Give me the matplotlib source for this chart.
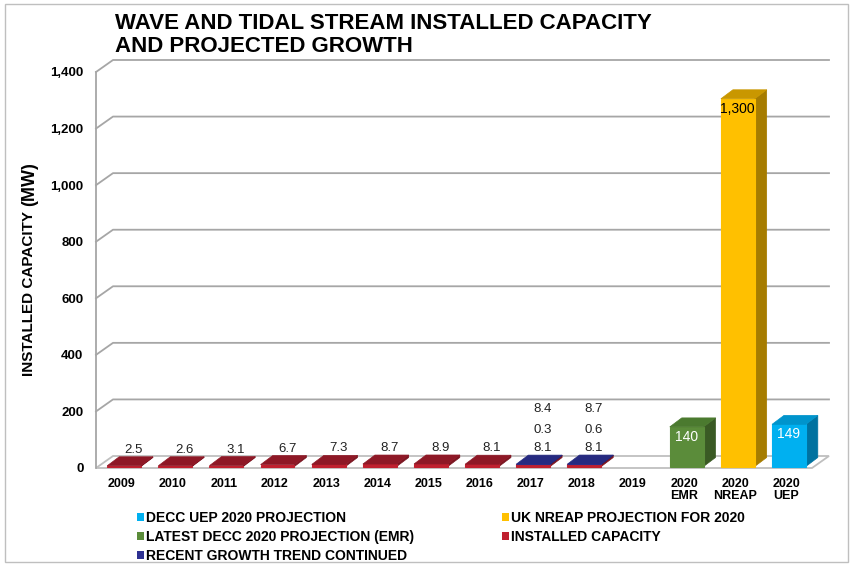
import matplotlib
matplotlib.use("Agg")
import matplotlib.pyplot as plt
from matplotlib.patches import Polygon, Rectangle, Patch

plt.rcParams["font.family"] = ["Liberation Sans", "DejaVu Sans"]

# ---- data ----
categories = ["2009", "2010", "2011", "2012", "2013", "2014", "2015", "2016",
              "2017", "2018", "2019", "2020\nEMR", "2020\nNREAP", "2020\nUEP"]
installed = [2.5, 2.6, 3.1, 6.7, 7.3, 8.7, 8.9, 8.1, 8.1, 8.1]   # 2009-2018
growth_years = ["2017", "2018"]
growth = [0.3, 0.6]                                               # trend continued
projection_names = ["2020\nEMR", "2020\nNREAP", "2020\nUEP"]
projection_values = [140, 1300, 149]
y_ticks = [0, 200, 400, 600, 800, 1000, 1200, 1400]

RED = ("#C0202F", "#7A1420", "#8E1826")      # front, side, top
NAVY = ("#2E3192", "#1E2066", "#262A80")
GREEN = ("#5B8C3A", "#3A5A24", "#4B7A2F")
YELLOW = ("#FFC000", "#A67C00", "#C99700")
BLUE = ("#00B0F0", "#0072A0", "#0094CC")
proj_colors = [GREEN, YELLOW, BLUE]
proj_text = ["white", "black", "white"]

W, H = 853, 566
fig = plt.figure(figsize=(W / 100, H / 100), dpi=100)
fig.patches.append(Rectangle((5 / W, 4 / H), (W - 10) / W, (H - 8) / H,
                             transform=fig.transFigure, fill=False,
                             edgecolor="#BFBFBF", linewidth=1.0))

left_px, right_px, bottom_px, top_px = 96, 812, 468, 72
ax = fig.add_axes([left_px / W, 1 - bottom_px / H,
                   (right_px - left_px) / W, (bottom_px - top_px) / H])
ax.set_xlim(-0.5, len(categories) - 0.5)
ax.set_ylim(0, 1400)
for sp in ax.spines.values():
    sp.set_visible(False)

# pixel -> data conversions for the fake depth
ux = len(categories) / (right_px - left_px)
uy = 1400 / (bottom_px - top_px)
gx, gy = 17 * ux, 12 * uy        # wall depth
bx, by = 12 * ux, 9 * uy         # bar depth
ox, oy = (gx - bx) / 2, (gy - by) / 2
hw = 0.33
x0, x1 = -0.5, len(categories) - 0.5

# floor, wall and gridlines
ax.add_patch(Polygon([(x0, 0), (x1, 0), (x1 + gx, gy), (x0 + gx, gy)],
                     closed=True, facecolor="white", edgecolor="#BFBFBF",
                     linewidth=1.3, clip_on=False, zorder=1))
ax.plot([x0, x0], [0, 1400], color="#A6A6A6", linewidth=1.3, clip_on=False, zorder=1)
for v in y_ticks[1:]:
    ax.plot([x0, x0 + gx, x1 + gx], [v, v + gy, v + gy], color="#A6A6A6",
            linewidth=1.3, clip_on=False, zorder=1)


def draw_box(xc, bottom, top, colors, with_top=True):
    front, side, topc = colors
    xl, xr = xc - hw + ox, xc + hw + ox
    b, t = bottom + oy, top + oy
    ax.add_patch(Polygon([(xr, b), (xr + bx, b + by), (xr + bx, t + by), (xr, t)],
                         closed=True, facecolor=side, edgecolor=side, linewidth=0.5,
                         zorder=3, clip_on=False))
    ax.add_patch(Polygon([(xl, b), (xr, b), (xr, t), (xl, t)], closed=True,
                         facecolor=front, edgecolor=front, linewidth=0.8,
                         zorder=3, clip_on=False))
    if with_top:
        ax.add_patch(Polygon([(xl, t), (xr, t), (xr + bx, t + by), (xl + bx, t + by)],
                             closed=True, facecolor=topc, edgecolor=topc,
                             linewidth=0.5, zorder=3, clip_on=False))


label_kw = dict(textcoords="offset pixels", ha="center", va="center",
                fontsize=9.5, color="#222222", zorder=5)

for i, val in enumerate(installed):
    year = categories[i]
    stacked = year in growth_years
    draw_box(i, 0, val, RED, with_top=not stacked)
    anchor = (i + ox + bx * 0.8, val + oy + by)
    ax.annotate(f"{val}", anchor, xytext=(0, 7), **label_kw)
    if stacked:
        g = growth[growth_years.index(year)]
        draw_box(i, val, val + g, NAVY)
        ax.annotate(f"{g}", anchor, xytext=(0, 25), **label_kw)
        ax.annotate(f"{round(val + g, 1)}", anchor, xytext=(0, 46), **label_kw)

for name, val, cols, tc in zip(projection_names, projection_values, proj_colors, proj_text):
    i = categories.index(name)
    draw_box(i, 0, val, cols)
    ax.annotate(f"{val:,}", (i + ox, val + oy), xytext=(0, -10),
                textcoords="offset pixels", ha="center", va="center",
                fontsize=10, color=tc, zorder=6)

ax.set_xticks(range(len(categories)))
ax.set_xticklabels(categories, fontsize=9, fontweight="bold", linespacing=1.0)
ax.set_yticks(y_ticks)
ax.set_yticklabels([f"{v:,}" for v in y_ticks], fontsize=9.5, fontweight="bold")
ax.tick_params(axis="x", length=0, pad=7)
ax.tick_params(axis="y", length=0, pad=9)

fig.text(29 / W, 1 - 293 / H, "INSTALLED CAPACITY", rotation=90, ha="center",
         va="center", fontsize=11, fontweight="bold")
fig.text(30 / W, 1 - 184 / H, "(MW)", rotation=90, ha="center", va="center",
         fontsize=13, fontweight="bold")

fig.text(115 / W, 1 - 13 / H, "WAVE AND TIDAL STREAM INSTALLED CAPACITY\nAND PROJECTED GROWTH",
         ha="left", va="top", fontsize=16, fontweight="bold", linespacing=1.15)

legend_kw = dict(loc="upper left", frameon=False, prop={"size": 10, "weight": "bold"},
                 handlelength=0.5, handleheight=0.5, handletextpad=0.15,
                 labelspacing=0.35, borderpad=0, borderaxespad=0)
left_handles = [Patch(facecolor=BLUE[0]), Patch(facecolor=GREEN[0]), Patch(facecolor=NAVY[0])]
left_labels = ["DECC UEP 2020 PROJECTION", "LATEST DECC 2020 PROJECTION (EMR)",
               "RECENT GROWTH TREND CONTINUED"]
right_handles = [Patch(facecolor=YELLOW[0]), Patch(facecolor=RED[0])]
right_labels = ["UK NREAP PROJECTION FOR 2020", "INSTALLED CAPACITY"]
fig.legend(left_handles, left_labels, bbox_to_anchor=(137 / W, 1 - 511 / H), **legend_kw)
fig.legend(right_handles, right_labels, bbox_to_anchor=(502 / W, 1 - 511 / H), **legend_kw)

fig.savefig("out.png", dpi=100)
